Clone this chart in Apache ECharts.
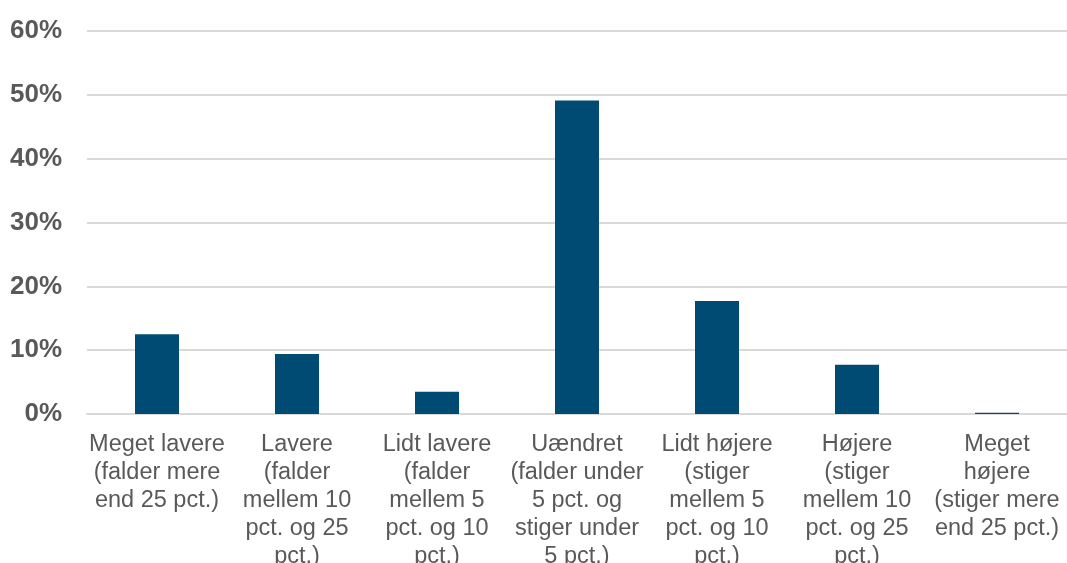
<!DOCTYPE html>
<html>
<head>
<meta charset="utf-8">
<script src="https://cdn.jsdelivr.net/npm/echarts@6/dist/echarts.min.js"></script>
<style>
html,body{margin:0;padding:0;background:#fff;}
#chart{width:1067px;height:563px;}
</style>
</head>
<body>
<div id="chart"></div>
<script>
const categories = [
  "Meget lavere\n(falder mere\nend 25 pct.)",
  "Lavere\n(falder\nmellem 10\npct. og 25\npct.)",
  "Lidt lavere\n(falder\nmellem 5\npct. og 10\npct.)",
  "Uændret\n(falder under\n5 pct. og\nstiger under\n5 pct.)",
  "Lidt højere\n(stiger\nmellem 5\npct. og 10\npct.)",
  "Højere\n(stiger\nmellem 10\npct. og 25\npct.)",
  "Meget\nhøjere\n(stiger mere\nend 25 pct.)"
];
const values = [12.5, 9.4, 3.5, 49.1, 17.7, 7.7, 0.2];
const yTicks = [0, 10, 20, 30, 40, 50, 60];

const chart = echarts.init(document.getElementById('chart'));
chart.setOption({
  animation: false,
  grid: { left: 87, right: 0, top: 31, bottom: 149, containLabel: false, outerBoundsMode: 'none' },
  xAxis: {
    type: 'category',
    data: categories,
    axisLine: { show: true, lineStyle: { color: '#d9d9d9', width: 2 } },
    axisTick: { show: false },
    axisLabel: {
      interval: 0,
      color: '#595959',
      fontFamily: 'Liberation Sans, Arial, sans-serif',
      fontSize: 23.5,
      lineHeight: 28,
      margin: 17,
      align: 'center'
    }
  },
  yAxis: {
    type: 'value',
    min: yTicks[0],
    max: yTicks[yTicks.length - 1],
    interval: 10,
    axisLine: { show: false },
    axisTick: { show: false },
    splitLine: { lineStyle: { color: '#d9d9d9', width: 2 } },
    axisLabel: {
      formatter: v => v + '%',
      color: '#595959',
      fontFamily: 'Liberation Sans, Arial, sans-serif',
      fontSize: 26,
      fontWeight: 'bold',
      margin: 25
    }
  },
  series: [{
    type: 'bar',
    data: values,
    barWidth: 44,
    itemStyle: { color: '#004b73' }
  }]
});
</script>
</body>
</html>
